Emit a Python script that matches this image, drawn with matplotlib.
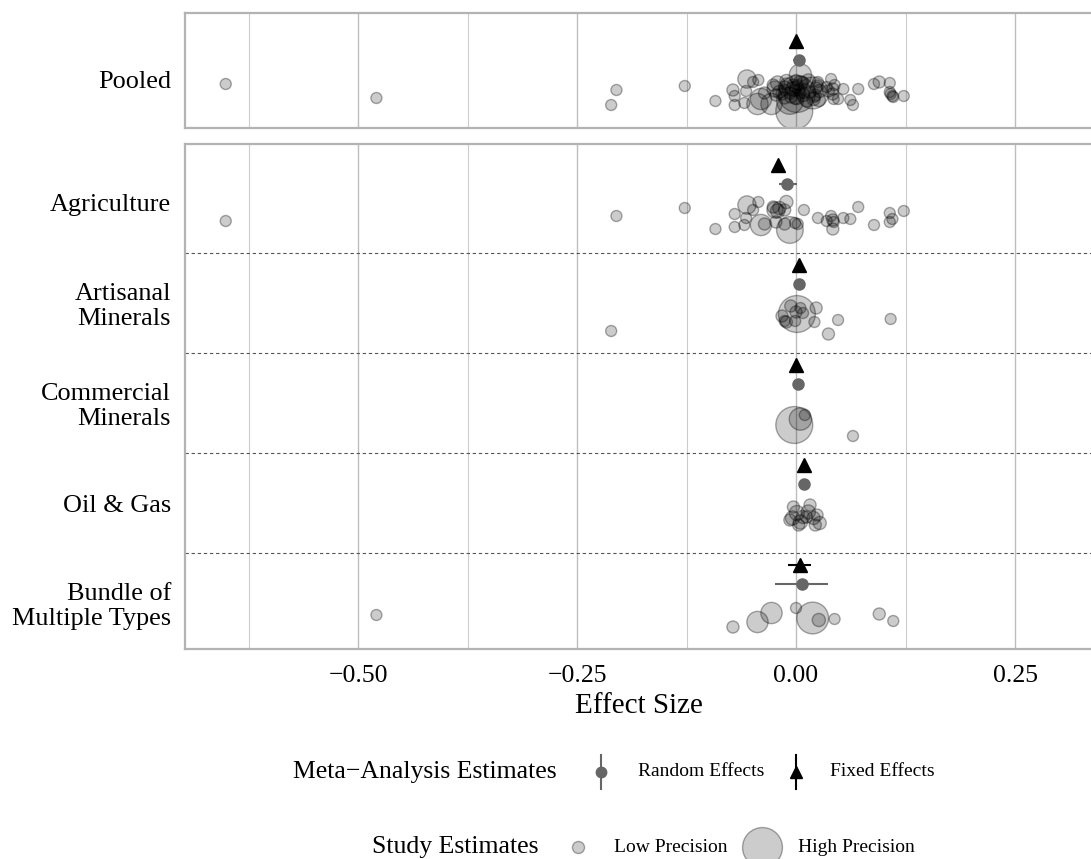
import numpy as np
import matplotlib
matplotlib.use('Agg')
import matplotlib.pyplot as plt

plt.rcParams['font.family'] = ['Liberation Serif', 'DejaVu Serif']

# Study estimates per sector: effect size, relative precision (0-1),
# vertical jitter in the sector row and in the pooled row
agri_eff = [-0.651, -0.205, -0.127, -0.092, -0.070, -0.070, -0.059, -0.057, -0.056, -0.049,
            -0.043, -0.040, -0.036, -0.026, -0.024, -0.021, -0.019, -0.023, -0.013, -0.013,
            -0.011, -0.007, -0.001, 0.002, 0.009, 0.025, 0.035, 0.040, 0.042, 0.043,
            0.042, 0.054, 0.062, 0.071, 0.089, 0.107, 0.107, 0.110, 0.123]
agri_prec = [0, 0, 0, 0, 0, 0, 0, 0, 0.27, 0,
             0, 0.38, 0.04, 0.04, 0.19, 0.12, 0.08, 0.04, 0.04, 0.04,
             0.08, 0.58, 0, 0, 0, 0, 0, 0, 0.04, 0,
             0.04, 0, 0, 0, 0, 0, 0, 0, 0]
agri_jit = [-0.18, -0.13, -0.05, -0.26, -0.11, -0.24, -0.22, -0.15, -0.02, -0.07,
            0.01, -0.22, -0.21, -0.04, -0.07, -0.08, -0.05, -0.19, -0.07, -0.21,
            0.01, -0.27, -0.20, -0.21, -0.07, -0.15, -0.18, -0.13, -0.17, -0.19,
            -0.26, -0.15, -0.16, -0.04, -0.22, -0.10, -0.19, -0.16, -0.08]
agri_pool_jit = [-0.05, -0.11, -0.07, -0.22, -0.17, -0.26, -0.24, -0.12, 0.00, -0.03,
                 -0.01, -0.20, -0.14, -0.06, -0.10, -0.04, -0.13, -0.16, -0.08, -0.19,
                 -0.02, -0.22, -0.12, -0.06, -0.14, -0.03, -0.08, 0.00, -0.15, -0.20,
                 -0.10, -0.10, -0.21, -0.10, -0.05, -0.04, -0.13, -0.17, -0.17]

art_eff = [-0.211, -0.016, -0.011, -0.013, -0.006, 0.000, 0.005, 0.008, -0.001, 0.001,
           0.023, 0.021, 0.048, 0.037, 0.108]
art_prec = [0, 0.04, 0.04, 0, 0.04, 0.04, 0, 0, 0, 0.96,
            0.04, 0, 0, 0.04, 0]
art_jit = [-0.28, -0.13, -0.19, -0.18, -0.03, -0.09, -0.05, -0.10, -0.18, -0.11,
           -0.05, -0.19, -0.17, -0.31, -0.16]
art_pool_jit = [-0.26, -0.15, -0.05, -0.11, -0.18, -0.08, -0.14, -0.03, -0.20, -0.15,
                -0.09, -0.18, -0.20, -0.12, -0.15]

com_eff = [-0.002, 0.005, 0.010, 0.065]
com_prec = [0.96, 0.42, 0, 0]
com_jit = [-0.22, -0.16, -0.12, -0.33]
com_pool_jit = [-0.32, 0.04, -0.10, -0.26]

oil_eff = [-0.003, 0.016, 0.014, 0.001, -0.004, 0.005, 0.020, 0.027, 0.024, 0.008,
           -0.007, 0.003, 0.012, 0.022]
oil_prec = [0.04, 0.04, 0.12, 0.15, 0.12, 0.12, 0.08, 0.08, 0.04, 0.08,
            0.04, 0.04, 0.04, 0.04]
oil_jit = [-0.04, -0.02, -0.09, -0.10, -0.15, -0.19, -0.15, -0.20, -0.12, -0.14,
           -0.17, -0.22, -0.14, -0.22]
oil_pool_jit = [-0.06, -0.13, -0.02, -0.18, -0.10, -0.04, -0.20, -0.12, -0.07, -0.16,
                -0.14, -0.11, -0.22, -0.16]

bun_eff = [-0.479, -0.072, -0.044, -0.028, 0.000, 0.019, 0.026, 0.044, 0.095, 0.111]
bun_prec = [0, 0.04, 0.38, 0.38, 0, 0.77, 0.08, 0, 0.04, 0]
bun_jit = [-0.12, -0.24, -0.19, -0.10, -0.05, -0.15, -0.17, -0.16, -0.11, -0.18]
bun_pool_jit = [-0.19, -0.11, -0.25, -0.25, -0.01, -0.14, -0.21, -0.06, -0.03, -0.18]

# Meta-analysis estimates (Agriculture, Artisanal, Commercial, Oil & Gas, Bundle)
sectors = ['Agriculture', 'Artisanal\nMinerals', 'Commercial\nMinerals', 'Oil & Gas',
           'Bundle of\nMultiple Types']
fe_est = [-0.021, 0.003, 0.000, 0.009, 0.004]
fe_lo = [-0.023, 0.001, -0.002, 0.007, -0.009]
fe_hi = [-0.019, 0.005, 0.002, 0.011, 0.017]
re_est = [-0.010, 0.003, 0.002, 0.009, 0.007]
re_lo = [-0.020, -0.001, -0.001, 0.006, -0.024]
re_hi = [0.001, 0.007, 0.005, 0.012, 0.036]

pooled_fe, pooled_fe_lo, pooled_fe_hi = 0.000, -0.001, 0.001
pooled_re, pooled_re_lo, pooled_re_hi = 0.003, -0.004, 0.005

study_sets = [(agri_eff, agri_prec, agri_jit, agri_pool_jit),
              (art_eff, art_prec, art_jit, art_pool_jit),
              (com_eff, com_prec, com_jit, com_pool_jit),
              (oil_eff, oil_prec, oil_jit, oil_pool_jit),
              (bun_eff, bun_prec, bun_jit, bun_pool_jit)]

W, H = 1091, 859
fig = plt.figure(figsize=(W / 100, H / 100), dpi=100)

PT = 0.72  # points per pixel at 100 dpi
FE_OFF, RE_OFF = 0.38, 0.19
pt_face = (0, 0, 0, 0.2)
pt_edge = (0, 0, 0, 0.33)
re_col = '#666666'
border = '#B3B3B3'


def marker_area(prec):
    d = 11 + 27 * np.asarray(prec)
    return (d * PT) ** 2


def style_axes(ax):
    ax.set_xlim(-0.6975, 0.339)
    ax.set_xticks([-0.5, -0.25, 0, 0.25])
    ax.set_xticks([-0.625, -0.375, -0.125, 0.125], minor=True)
    ax.grid(axis='x', which='major', color='#BDBDBD', lw=1.0, zorder=0)
    ax.grid(axis='x', which='minor', color='#CCCCCC', lw=0.8, zorder=0)
    ax.set_axisbelow(True)
    ax.tick_params(which='both', length=0)
    ax.tick_params(axis='y', pad=10, labelsize=18.9)
    for side in ['left', 'top', 'bottom']:
        ax.spines[side].set_color(border)
        ax.spines[side].set_linewidth(1.6)
    ax.spines['right'].set_visible(False)


ax_top = fig.add_axes([185 / W, 1 - 128 / H, (1093 - 185) / W, (128 - 12.5) / H])
ax_bot = fig.add_axes([185 / W, 1 - 649 / H, (1093 - 185) / W, (649 - 144) / H])

# pooled panel
for eff, prec, jit, pjit in study_sets:
    ax_top.scatter(eff, 1 + np.array(pjit), s=marker_area(prec), facecolor=pt_face,
                   edgecolor=pt_edge, linewidth=1.0, zorder=2)
ax_top.errorbar([pooled_re], [1 + RE_OFF],
                xerr=[[pooled_re - pooled_re_lo], [pooled_re_hi - pooled_re]],
                fmt='o', color=re_col, ms=8, elinewidth=1.5, capsize=0, zorder=3)
ax_top.errorbar([pooled_fe], [1 + FE_OFF],
                xerr=[[pooled_fe - pooled_fe_lo], [pooled_fe_hi - pooled_fe]],
                fmt='^', color='black', ms=9.5, elinewidth=1.5, capsize=0, zorder=3)
style_axes(ax_top)
ax_top.set_ylim(0.51, 1.665)
ax_top.set_yticks([1])
ax_top.set_yticklabels(['Pooled'])
ax_top.tick_params(axis='x', labelbottom=False)

# sector panel
levels = np.arange(len(sectors), 0, -1)
for lev, (eff, prec, jit, pjit) in zip(levels, study_sets):
    ax_bot.scatter(eff, lev + np.array(jit), s=marker_area(prec), facecolor=pt_face,
                   edgecolor=pt_edge, linewidth=1.0, zorder=2)
re_est_a = np.array(re_est)
fe_est_a = np.array(fe_est)
ax_bot.errorbar(re_est_a, levels + RE_OFF,
                xerr=[re_est_a - np.array(re_lo), np.array(re_hi) - re_est_a],
                fmt='o', color=re_col, ms=8, elinewidth=1.5, capsize=0, zorder=3)
ax_bot.errorbar(fe_est_a, levels + FE_OFF,
                xerr=[fe_est_a - np.array(fe_lo), np.array(fe_hi) - fe_est_a],
                fmt='^', color='black', ms=9.5, elinewidth=1.5, capsize=0, zorder=3)
for sep in levels[:-1] - 0.5:
    ax_bot.axhline(sep, color='#555555', lw=0.8, ls=(0, (3, 2.5)), zorder=1)
style_axes(ax_bot)
ax_bot.set_ylim(0.54, 5.59)
ax_bot.set_yticks(levels)
ax_bot.set_yticklabels(sectors, linespacing=1.15)
ax_bot.set_xticklabels(['\u22120.50', '\u22120.25', '0.00', '0.25'])
ax_bot.tick_params(axis='x', pad=11.5, labelsize=18.5)
ax_bot.set_xlabel('Effect Size', fontsize=21, labelpad=4)

# legends, laid out in figure pixels
lg = fig.add_axes([0, 0, 1, 1])
lg.set_xlim(0, W)
lg.set_ylim(H, 0)
lg.axis('off')

y1 = 772
lg.text(557, y1, 'Meta\u2212Analysis Estimates', ha='right', va='center', fontsize=18.5)
lg.plot([601, 601], [y1 - 17, y1 + 17], color=re_col, lw=1.5)
lg.plot([601], [y1], 'o', color=re_col, ms=7.5)
lg.text(638, y1, 'Random Effects', ha='left', va='center', fontsize=14)
lg.plot([796, 796], [y1 - 17, y1 + 17], color='black', lw=1.5)
lg.plot([796], [y1], '^', color='black', ms=9)
lg.text(830, y1, 'Fixed Effects', ha='left', va='center', fontsize=14)

y2 = 847
lg.text(538, y2, 'Study Estimates', ha='right', va='center', fontsize=18.5)
lg.scatter([578], [y2], s=marker_area([0.04]), facecolor=pt_face, edgecolor=pt_edge, linewidth=1.0)
lg.text(614, y2, 'Low Precision', ha='left', va='center', fontsize=14)
lg.scatter([762], [y2], s=marker_area([1.07]), facecolor=pt_face, edgecolor=pt_edge, linewidth=1.0)
lg.text(798, y2, 'High Precision', ha='left', va='center', fontsize=14)

fig.savefig('out.png', dpi=100)
